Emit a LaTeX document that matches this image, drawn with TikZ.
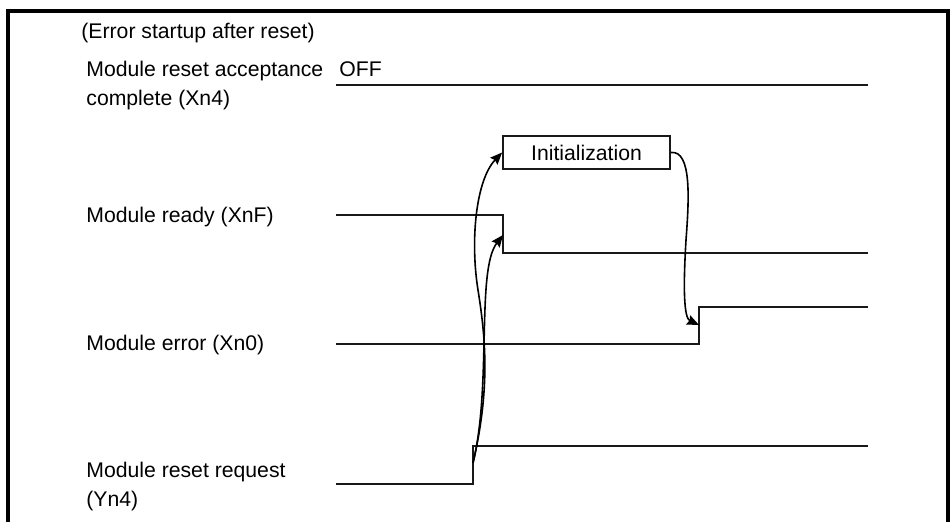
\documentclass[tikz,border=0pt]{standalone}
\usepackage{fontspec}
\setmainfont{Liberation Sans}
\usetikzlibrary{arrows.meta}

\begin{document}
\begin{tikzpicture}[
        x=0.5pt, y=-0.5pt,
        lbl/.style={anchor=base west, inner sep=0pt, align=left, font=\fontsize{10.6}{14.5}\selectfont},
        wave/.style={line width=0.9pt, draw=black!90},
        frame/.style={line width=2pt, draw=black},
        initbox/.style={rectangle, draw=black!90, line width=0.9pt, minimum width=83.5pt, minimum height=16.5pt, inner sep=0pt, font=\fontsize{10.6}{13}\selectfont},
        cause/.style={-{Stealth[length=6pt, width=5pt, inset=0.8pt]}, line width=0.8pt, draw=black}
    ]
        \useasboundingbox (0,0) rectangle (952,522);
        \draw[frame] (8,530) -- (8,11) -- (948,11) -- (948,530);
        \node[lbl] (title) at (81,39) {(Error startup after reset)};
        \node[lbl] (xn4) at (86,77) {Module reset acceptance};
        \node[lbl] (xn4b) at (86,106) {complete (Xn4)};
        \node[lbl] (off) at (339,77) {OFF};
        \node[lbl] (xnf) at (86,223) {Module ready (XnF)};
        \node[lbl] (xn0) at (86,351) {Module error (Xn0)};
        \node[lbl] (yn4) at (86,478) {Module reset request};
        \node[lbl] (yn4b) at (86,507) {(Yn4)};
        \node[initbox] (init) at (586.5,152.5) {Initialization};
        \coordinate (rdyfall) at (503,235);
        \coordinate (errrise) at (699,325);
        \coordinate (rstrise) at (473,463);
        \draw[wave] (336,85) -- (868,85);
        \draw[wave] (336,215) -- (503,215) -- (503,253) -- (868,253);
        \draw[wave] (336,344) -- (699,344) -- (699,307) -- (868,307);
        \draw[wave] (336,484) -- (473,484) -- (473,446) -- (868,446);
        \draw[cause] (rstrise) .. controls (490,390) and (486,340) .. (478,290) .. controls (470,240) and (476,180) .. (init.west);
        \draw[cause] (rstrise) .. controls (492,385) and (476,270) .. (rdyfall);
        \draw[cause] (init.east) .. controls (692,150) and (689,200) .. (686,240) .. controls (683,290) and (684,318) .. (errrise);
    \end{tikzpicture}
\end{document}
